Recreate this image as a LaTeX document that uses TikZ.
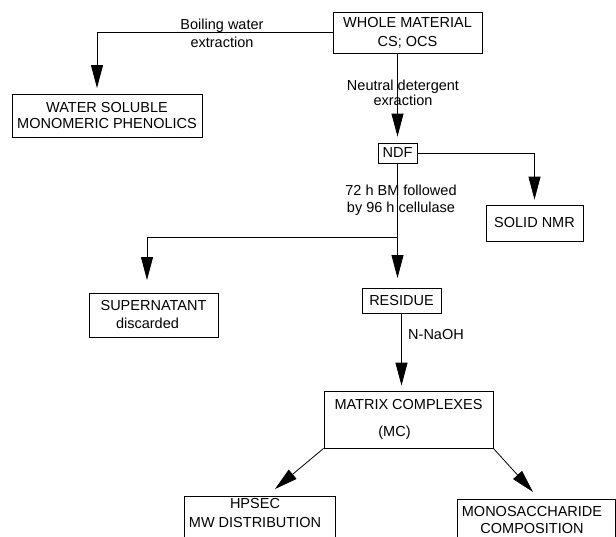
\documentclass[tikz,border=0pt]{standalone}
\usepackage{fontspec}
\setmainfont{Liberation Sans}
\usetikzlibrary{arrows.meta,calc}
\newcommand\dfont{\fontsize{14.5}{17.5}\selectfont}
\begin{document}
\begin{tikzpicture}[x=1pt,y=-1pt,
  box/.style={draw,line width=0.8pt,inner sep=0pt,align=center,font=\dfont},
  lbl/.style={inner sep=0pt,align=center,font=\dfont},
  conn/.style={line width=0.8pt},
  arr/.style={line width=0.8pt,-{Triangle[length=23pt,width=12pt]}}]
\clip (0,0) rectangle (616,536);
\fill[white] (0,0) rectangle (616,536);
% boxes
\node[box,minimum width=149pt,minimum height=41pt] (whole) at (407.5,32.5) {WHOLE MATERIAL\\[1.5pt]CS; OCS};
\node[box,minimum width=190pt,minimum height=43pt] (water) at (107,115.5) {WATER SOLUBLE\\[-1.5pt]MONOMERIC PHENOLICS};
\node[box,minimum width=39pt,minimum height=20pt] (ndf) at (397.5,153) {NDF};
\node[box,minimum width=97pt,minimum height=36pt] (nmr) at (534.5,223) {SOLID NMR};
\node[box,minimum width=129pt,minimum height=44pt] (super) at (153.5,315) {SUPERNATANT\\[0.5pt]\hspace*{-12pt}discarded};
\node[box,minimum width=79pt,minimum height=25pt] (residue) at (401.5,300.5) {RESIDUE};
\node[box,minimum width=169pt,minimum height=57pt] (matrix) at (408.5,419.5) {MATRIX COMPLEXES\\[9pt]\hspace*{-28pt}(MC)};
\node[box,minimum width=151pt,minimum height=64pt] (hpsec) at (259.5,528) {};
\node[lbl] (hpsecT) at (255,513.5) {HPSEC\\[1.5pt]MW DISTRIBUTION};
\node[box,minimum width=158pt,minimum height=61pt] (mono) at (536,529.5) {};
\node[lbl] (monoT) at (532,520.5) {MONOSACCHARIDE\\[-0.5pt]COMPOSITION};
% labels
\node[lbl] (bw) at (222,33) {Boiling water\\[0.5pt]extraction};
\node[lbl] (nd) at (403,92.5) {Neutral detergent\\[-2.5pt]exraction};
\node[lbl] (bm) at (401,200.5) {72 h BM followed\\[-0.5pt]by 96 h cellulase};
\node[lbl,anchor=west] (na) at (408,335) {N-NaOH};
% coordinates
\coordinate (wsT) at (97,88);
\coordinate (br) at (397.5,237);
\coordinate (resT) at (397.5,278);
\coordinate (supT) at (147,280);
\coordinate (hpT) at (275,489);
\coordinate (moT) at (533,492);
% connectors
\draw[arr] (whole.west) -| (wsT);
\draw[arr,shorten >=6pt] (ndf.north |- whole.south) -- (ndf.north);
\draw[arr,shorten >=5pt] (ndf.east) -| (nmr.north);
\draw[arr] (ndf.south) -- (resT);
\draw[arr] (br) -| (supT);
\draw[arr,shorten >=5pt] (residue.south) -- (residue.south |- matrix.north);
\draw[arr] (matrix.south west) -- (hpT);
\draw[arr] (matrix.south east) -- (moT);
\end{tikzpicture}
\end{document}
